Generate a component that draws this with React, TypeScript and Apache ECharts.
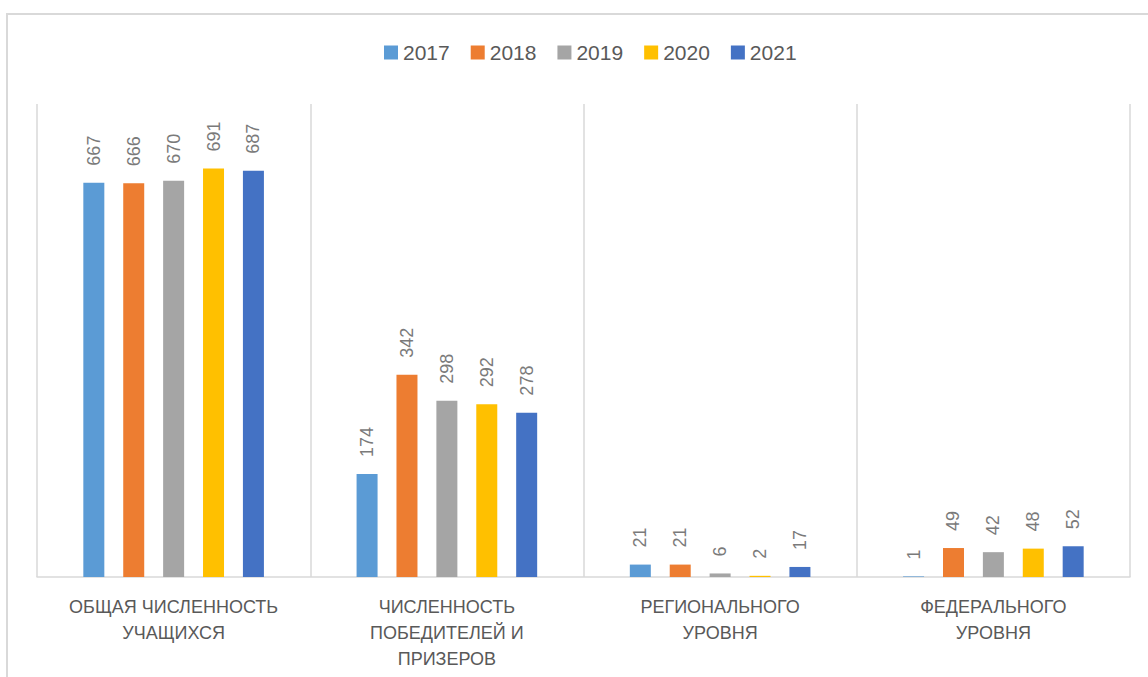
import React, { useEffect, useRef } from "react";
import * as echarts from "echarts";

const categories = [
  "ОБЩАЯ ЧИСЛЕННОСТЬ\nУЧАЩИХСЯ",
  "ЧИСЛЕННОСТЬ\nПОБЕДИТЕЛЕЙ И\nПРИЗЕРОВ",
  "РЕГИОНАЛЬНОГО\nУРОВНЯ",
  "ФЕДЕРАЛЬНОГО\nУРОВНЯ",
];
const years = ["2017", "2018", "2019", "2020", "2021"];
const v2017 = [667, 174, 21, 1];
const v2018 = [666, 342, 21, 49];
const v2019 = [670, 298, 6, 42];
const v2020 = [691, 292, 2, 48];
const v2021 = [687, 278, 17, 52];
const colors = ["#5B9BD5", "#ED7D31", "#A5A5A5", "#FFC000", "#4472C4"];

export default function App() {
  const ref = useRef<HTMLDivElement>(null);
  useEffect(() => {
    document.body.style.margin = "0";
    const chart = echarts.init(ref.current!, undefined, { renderer: "svg" });
    const values = [v2017, v2018, v2019, v2020, v2021];
    const font = "'Liberation Sans', Arial, sans-serif";
    chart.setOption({
      animation: false,
      textStyle: { fontFamily: font },
      graphic: [
        {
          type: "rect",
          shape: { x: 7, y: 14, width: 1200, height: 700 },
          style: { fill: "none", stroke: "#d9d9d9", lineWidth: 2 },
          silent: true,
        },
      ],
      legend: {
        data: years,
        left: 379,
        top: 37,
        itemWidth: 14,
        itemHeight: 14,
        itemGap: 21,
        icon: "rect",
        textStyle: { fontSize: 21, color: "#595959", fontFamily: font },
      },
      grid: { left: 37, right: 18, top: 104, bottom: 100, containLabel: false },
      xAxis: {
        type: "category",
        data: categories,
        axisLine: { lineStyle: { color: "#d9d9d9", width: 1.5 } },
        axisTick: { show: false },
        splitLine: { show: true, lineStyle: { color: "#d9d9d9", width: 1.5 } },
        axisLabel: {
          interval: 0,
          fontSize: 18,
          color: "#595959",
          lineHeight: 26,
          margin: 17,
          fontFamily: font,
        },
      },
      yAxis: {
        type: "value",
        min: 0,
        max: 800,
        show: false,
        splitLine: { show: false },
      },
      series: years.map((y, i) => ({
        name: y,
        type: "bar",
        data: values[i],
        barWidth: 21,
        barGap: "90%",
        itemStyle: { color: colors[i] },
        label: {
          show: true,
          position: "top",
          rotate: 90,
          align: "left",
          verticalAlign: "middle",
          distance: 17,
          fontSize: 18,
          color: "#7a7a7a",
          fontFamily: font,
        },
      })),
    });
    return () => chart.dispose();
  }, []);
  return <div ref={ref} style={{ width: 1148, height: 677 }} />;
}
